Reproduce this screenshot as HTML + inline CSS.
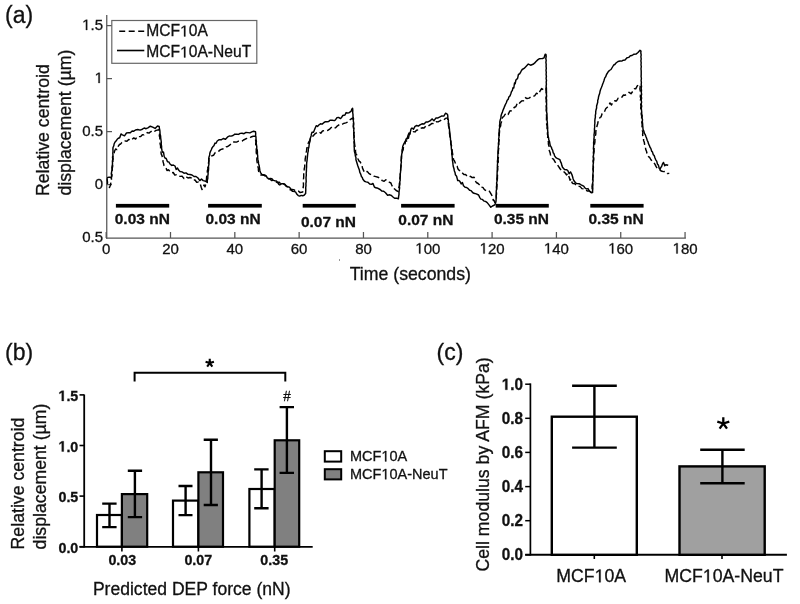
<!DOCTYPE html>
<html><head><meta charset="utf-8"><style>
html,body{margin:0;padding:0;background:#fff;}
svg{display:block;filter:blur(0.35px);}
text{font-family:"Liberation Sans",sans-serif;fill:#111;stroke:#111;stroke-width:0.3px;}
.t15{font-size:15px;}
.t14{font-size:14.5px;}
.t17{font-size:17.7px;}
.t23{font-size:23px;}
.b15{font-size:15.5px;font-weight:bold;}
.c15{font-size:15.3px;font-weight:bold;}
.l15{font-size:15.6px;}
.h13{font-size:13.5px;}
.b13{font-size:14.3px;font-weight:bold;}
.o{fill:transparent;stroke:transparent;}
</style></head><body>
<svg width="800" height="604" viewBox="0 0 800 604">
<rect width="800" height="604" fill="#fff"/>
<line x1="106.75" y1="15" x2="106.75" y2="238.7" stroke="#555" stroke-width="1.25"/>
<line x1="106.1" y1="238.1" x2="685.9" y2="238.1" stroke="#555" stroke-width="1.25"/>
<line x1="106.7" y1="25.6" x2="112" y2="25.6" stroke="#555" stroke-width="1.25"/>
<line x1="106.7" y1="78.6" x2="112" y2="78.6" stroke="#555" stroke-width="1.25"/>
<line x1="106.7" y1="131.6" x2="112" y2="131.6" stroke="#555" stroke-width="1.25"/>
<line x1="106.7" y1="184.6" x2="112" y2="184.6" stroke="#555" stroke-width="1.25"/>
<line x1="106.18" y1="238" x2="106.18" y2="232" stroke="#555" stroke-width="1.25"/>
<line x1="170.50" y1="238" x2="170.50" y2="232" stroke="#555" stroke-width="1.25"/>
<line x1="234.82" y1="238" x2="234.82" y2="232" stroke="#555" stroke-width="1.25"/>
<line x1="299.14" y1="238" x2="299.14" y2="232" stroke="#555" stroke-width="1.25"/>
<line x1="363.46" y1="238" x2="363.46" y2="232" stroke="#555" stroke-width="1.25"/>
<line x1="427.78" y1="238" x2="427.78" y2="232" stroke="#555" stroke-width="1.25"/>
<line x1="492.10" y1="238" x2="492.10" y2="232" stroke="#555" stroke-width="1.25"/>
<line x1="556.42" y1="238" x2="556.42" y2="232" stroke="#555" stroke-width="1.25"/>
<line x1="620.74" y1="238" x2="620.74" y2="232" stroke="#555" stroke-width="1.25"/>
<line x1="685.06" y1="238" x2="685.06" y2="232" stroke="#555" stroke-width="1.25"/>
<text transform="translate(103,30.0) scale(1,1)" text-anchor="end" class="t15"><tspan class="o">1</tspan>.5</text>
<text transform="translate(103,83.0) scale(1,1)" text-anchor="end" class="t15"><tspan class="o">1</tspan></text>
<text transform="translate(103,136.0) scale(1,1)" text-anchor="end" class="t15">0.5</text>
<text transform="translate(103,189.0) scale(1,1)" text-anchor="end" class="t15">0</text>
<text transform="translate(103,242.0) scale(1,1)" text-anchor="end" class="t15">0.5</text>
<text transform="translate(106.2,253.5) scale(1,1)" text-anchor="middle" class="t15">0</text>
<text transform="translate(170.5,253.5) scale(1,1)" text-anchor="middle" class="t15">20</text>
<text transform="translate(234.8,253.5) scale(1,1)" text-anchor="middle" class="t15">40</text>
<text transform="translate(299.1,253.5) scale(1,1)" text-anchor="middle" class="t15">60</text>
<text transform="translate(363.5,253.5) scale(1,1)" text-anchor="middle" class="t15">80</text>
<text transform="translate(427.8,253.5) scale(1,1)" text-anchor="middle" class="t15"><tspan class="o">1</tspan>00</text>
<text transform="translate(492.1,253.5) scale(1,1)" text-anchor="middle" class="t15"><tspan class="o">1</tspan>20</text>
<text transform="translate(556.4,253.5) scale(1,1)" text-anchor="middle" class="t15"><tspan class="o">1</tspan>40</text>
<text transform="translate(620.7,253.5) scale(1,1)" text-anchor="middle" class="t15"><tspan class="o">1</tspan>60</text>
<text transform="translate(685.1,253.5) scale(1,1)" text-anchor="middle" class="t15"><tspan class="o">1</tspan>80</text>
<text transform="translate(410.3,279.8) scale(1,1)" text-anchor="middle" class="t17">Time (seconds)</text>
<text transform="translate(49.2,196) rotate(-90) scale(1,1)" class="t17">Relative centroid</text>
<text transform="translate(71,195.5) rotate(-90) scale(1,1)" class="t17">displacement (µm)</text>
<text transform="translate(5,23) scale(1,1)" class="t23">(a)</text>
<rect x="111.8" y="20.5" width="145" height="42.8" fill="#fff" stroke="#666" stroke-width="1.2"/>
<line x1="119.2" y1="31.3" x2="144.2" y2="31.3" stroke="#000" stroke-width="1.6" stroke-dasharray="6,3.5"/>
<line x1="117" y1="50.5" x2="144.3" y2="50.5" stroke="#000" stroke-width="1.6"/>
<text transform="translate(146.3,36.4) scale(1,1)" class="l15">MCF<tspan class="o">1</tspan>0A</text>
<text transform="translate(146.3,57.4) scale(1,1)" class="l15">MCF<tspan class="o">1</tspan>0A-NeuT</text>
<polyline points="107.2,178.2 107.2,180.1 107.5,182.1 107.4,184.0 108.5,185.4 109.5,187.5 110.3,185.5 110.7,183.5 111.3,181.5 111.5,179.6 111.4,177.7 111.9,175.8 111.9,173.8 112.4,171.9 112.3,170.0 112.3,168.1 112.7,166.2 112.5,164.4 112.9,162.5 112.8,160.6 113.1,158.8 112.9,156.9 113.2,155.0 114.1,153.0 114.6,151.0 115.6,149.0 116.9,149.6 118.3,146.2 119.5,144.5 120.6,144.0 121.8,142.6 123.5,141.3 125.2,140.9 126.9,141.2 128.7,139.4 130.4,140.4 132.1,139.3 133.8,137.9 135.6,139.1 137.3,136.5 139.0,136.6 140.7,136.5 142.4,134.7 144.1,134.9 145.8,133.8 147.4,132.6 149.0,133.1 150.6,131.8 152.4,130.6 154.3,131.5 156.1,130.4 159.0,129.8 159.0,131.8 159.6,133.8 159.3,135.9 159.9,137.9 159.7,139.9 160.1,141.9 160.1,143.9 160.6,145.9 160.6,148.0 160.8,150.0 161.0,152.0 161.2,153.9 162.1,155.9 162.3,157.8 162.9,159.7 163.0,161.6 163.6,163.6 164.0,165.5 165.5,166.7 167.0,170.5 168.5,169.8 170.0,171.5 171.6,172.8 173.2,172.5 174.8,175.0 176.4,174.9 178.0,176.0 180.0,176.4 182.0,176.1 184.0,178.5 186.0,176.6 188.0,178.0 190.0,177.5 191.7,178.1 193.3,180.1 195.0,180.0 196.7,182.3 198.3,182.1 200.0,183.5 200.7,185.5 201.3,187.5 202.0,189.5 203.0,188.8 204.0,184.9 205.0,186.8 206.0,183.5 206.1,181.4 206.5,179.2 206.6,177.1 207.0,175.0 207.4,173.0 207.3,171.0 207.9,169.0 207.8,167.0 208.5,165.0 208.5,163.0 208.8,161.0 208.9,159.0 209.3,157.0 212.0,155.8 213.5,155.3 215.0,152.8 216.5,152.0 218.5,151.4 220.5,149.6 222.5,149.0 224.2,148.7 226.0,146.9 227.8,146.5 229.6,145.2 231.5,143.5 233.0,142.1 234.5,142.0 236.5,142.1 238.5,141.2 240.5,141.3 242.0,141.1 243.5,140.0 245.8,138.8 248.0,138.1 249.5,137.9 251.0,137.0 253.2,136.2 255.5,136.3 255.7,138.3 255.6,140.2 256.0,142.2 255.7,144.2 256.2,146.2 256.1,148.2 256.3,150.1 256.2,152.1 256.5,154.1 256.4,156.1 256.9,158.0 256.8,160.0 257.1,162.1 257.6,164.2 257.7,166.2 258.4,168.3 258.4,170.4 259.0,172.5 261.0,175.1 263.0,175.0 264.7,175.5 266.3,177.7 268.0,178.5 269.8,178.7 271.5,180.5 273.2,180.2 275.0,181.0 277.0,182.5 279.0,182.1 281.0,184.0 283.0,183.4 285.0,184.8 286.8,186.6 288.5,186.8 290.2,189.9 292.0,189.5 293.7,189.7 295.3,190.7 297.0,191.0 298.5,191.1 300.0,192.5 302.7,192.0 303.1,190.3 302.9,188.7 303.3,187.0 303.5,185.0 303.4,183.0 303.7,181.0 303.5,179.0 303.7,177.0 303.7,175.0 303.7,173.0 304.2,170.9 304.2,168.9 304.7,166.8 304.7,164.8 304.7,162.8 305.1,160.9 305.2,158.9 305.6,157.0 305.6,155.0 305.9,153.0 306.6,151.0 306.7,149.0 307.2,147.0 307.6,145.0 308.2,143.2 309.0,141.5 309.8,140.7 310.5,137.8 311.2,137.0 313.1,136.0 315.0,133.8 317.2,132.5 319.0,131.8 320.8,133.2 322.5,131.0 324.4,130.6 326.2,130.8 328.1,130.2 330.0,128.8 331.9,126.9 333.8,127.9 335.6,127.8 337.5,125.8 339.4,124.6 341.2,124.9 343.5,123.5 345.8,122.9 348.0,121.9 349.5,120.1 351.0,119.0 353.0,118.0 353.2,120.0 353.1,122.0 353.5,124.0 353.3,126.0 353.6,128.0 353.6,130.0 353.8,132.0 353.7,134.0 354.2,136.0 354.0,138.0 354.2,140.0 354.4,142.0 354.6,144.0 354.9,146.0 354.9,148.0 355.5,150.0 355.5,152.0 356.0,153.8 357.0,155.5 357.2,157.2 358.0,159.0 359.1,161.1 360.2,161.9 361.3,164.0 362.1,166.0 362.5,168.1 363.4,170.1 364.5,172.5 367.2,171.4 368.8,173.3 370.4,174.4 372.2,174.6 374.0,176.1 375.8,176.6 378.0,177.2 380.1,178.7 382.3,180.6 384.1,181.3 385.8,179.8 387.6,180.5 389.2,182.1 390.9,183.0 391.6,184.8 392.5,186.6 393.0,188.4 394.6,188.9 396.2,190.5 398.4,191.6 398.9,189.7 398.8,187.7 399.4,185.8 399.3,183.9 399.8,181.9 400.0,180.0 400.0,178.0 400.3,175.9 400.3,173.9 400.7,171.9 400.6,169.8 400.8,167.8 400.9,165.8 401.2,163.7 401.1,161.7 401.3,159.7 401.2,157.6 401.5,155.6 402.0,153.6 402.3,151.6 403.2,149.7 403.3,147.7 404.0,145.7 404.9,144.8 405.7,140.2 406.6,141.1 407.4,138.7 408.3,138.9 409.1,135.0 410.0,133.8 411.7,133.3 413.3,131.8 415.0,131.9 416.7,130.1 418.3,130.0 420.0,128.8 422.0,127.8 424.0,128.0 426.0,125.8 428.0,126.2 430.0,124.8 432.0,123.4 434.0,123.7 436.0,121.7 438.0,121.9 440.0,120.9 441.9,119.4 443.8,119.8 445.6,118.4 447.5,117.9 447.8,119.9 447.9,121.9 448.4,123.8 448.5,125.8 449.0,127.8 448.9,129.8 449.5,131.8 449.5,133.8 450.1,135.7 450.0,137.7 450.5,139.7 450.9,141.7 451.0,143.7 451.5,145.7 451.7,147.7 452.1,149.6 452.2,151.6 452.6,153.6 452.8,155.6 453.3,157.6 453.5,159.6 454.4,160.7 455.4,163.2 456.3,165.7 457.1,166.1 458.0,169.1 458.9,170.1 460.6,171.0 462.4,173.0 463.9,174.6 465.5,174.5 467.0,175.9 468.8,177.0 470.5,176.3 472.2,177.6 474.0,177.3 474.8,178.3 475.5,181.1 476.3,182.5 478.1,183.5 479.8,185.2 481.3,187.3 482.9,187.4 484.4,189.6 486.7,191.0 489.0,191.0 490.1,192.3 491.3,194.4 492.5,196.8 493.3,200.4 494.0,200.3 494.8,202.5 496.2,200.0 496.4,198.1 496.2,196.2 496.5,194.2 496.5,192.3 496.8,190.4 496.7,188.5 497.0,186.5 496.9,184.6 497.3,182.7 497.1,180.8 497.4,178.8 497.4,176.9 497.5,175.0 497.6,173.1 497.5,171.2 497.8,169.2 497.6,167.3 498.1,165.4 497.9,163.5 498.3,161.5 498.0,159.6 498.4,157.7 498.1,155.8 498.4,153.8 498.3,151.9 498.5,150.0 498.8,148.0 498.5,146.0 498.9,144.0 498.7,142.0 499.2,140.0 498.9,138.0 499.3,136.0 499.3,134.0 499.5,132.0 499.5,130.0 499.9,127.9 500.7,125.8 500.8,123.7 501.6,121.6 502.0,119.5 502.5,117.4 503.8,116.5 505.0,114.5 506.6,113.1 508.2,114.4 509.8,111.0 511.4,110.7 513.0,109.0 514.4,107.2 515.8,106.8 517.2,103.5 518.6,104.4 520.0,102.5 521.8,100.9 523.5,100.8 525.2,97.6 527.0,98.5 529.0,98.1 531.0,96.8 533.0,96.5 534.8,95.6 536.5,93.2 538.2,94.2 540.0,91.2 541.7,88.5 543.3,89.6 545.0,87.9 546.0,88.0 546.0,90.0 546.2,92.0 545.9,94.0 546.3,96.0 546.0,98.0 546.3,100.0 546.2,102.0 546.3,104.0 546.2,106.0 546.4,108.0 546.2,110.0 546.4,112.0 546.3,114.0 546.6,116.0 546.5,118.0 546.5,120.0 546.9,122.0 546.6,124.0 547.2,126.0 547.0,128.0 547.3,130.0 547.6,132.0 547.4,134.0 547.9,135.9 547.6,137.9 548.0,139.9 548.4,142.0 548.4,144.1 549.0,146.3 548.9,148.4 549.3,150.5 550.1,152.7 550.5,154.9 551.3,157.1 552.4,158.6 553.5,159.2 554.6,161.1 555.9,163.4 557.2,164.4 558.5,166.4 559.9,168.5 561.2,170.3 563.2,171.1 565.2,173.0 566.5,174.9 567.8,173.5 569.1,177.0 570.1,180.2 571.1,178.8 572.1,182.7 573.1,183.6 574.9,183.8 576.6,185.6 578.4,186.2 580.2,186.6 581.9,188.6 583.7,188.9 585.5,189.2 587.2,191.0 589.0,190.9 591.7,192.2 591.7,190.3 592.2,188.4 592.0,186.5 592.3,184.6 592.4,182.6 592.6,180.7 592.7,178.8 592.9,176.9 593.0,175.0 593.0,173.1 593.3,171.2 593.1,169.2 593.4,167.3 593.2,165.4 593.5,163.5 593.4,161.5 593.8,159.6 593.6,157.7 593.8,155.8 593.6,153.8 594.1,151.9 594.0,150.0 594.1,148.0 594.5,146.0 594.5,144.0 594.9,142.0 594.9,140.0 595.2,138.0 595.3,136.0 595.8,134.0 595.8,132.0 596.0,130.0 596.6,128.0 597.0,126.0 597.6,124.0 598.0,122.0 599.0,119.5 600.0,117.5 601.0,116.9 602.0,113.9 603.0,112.5 604.3,112.1 605.7,108.8 607.0,107.5 608.5,106.4 610.0,102.9 611.5,105.0 613.0,102.3 614.8,100.8 616.5,101.0 618.2,98.1 620.0,97.5 621.8,97.3 623.5,95.0 625.2,95.2 627.0,94.0 629.0,92.3 631.0,93.7 633.0,91.0 634.3,88.7 635.7,88.8 637.0,86.3 638.5,84.6 640.0,85.0 640.2,86.9 639.9,88.8 640.3,90.8 640.1,92.7 640.5,94.6 640.3,96.5 640.8,98.5 640.4,100.4 640.7,102.3 640.7,104.2 641.0,106.2 640.7,108.1 641.0,110.0 641.2,112.1 641.2,114.1 641.7,116.2 641.6,118.2 641.9,120.3 641.8,122.4 642.2,124.4 642.0,126.5 642.4,128.6 642.4,130.6 642.9,132.7 642.6,134.7 643.0,136.8 643.5,138.6 643.6,140.4 644.3,142.2 644.5,144.0 645.0,145.8 645.5,147.6 645.7,149.4 646.5,151.2 646.8,153.0 647.3,154.8 648.5,156.6 649.6,157.4 650.8,159.5 652.2,161.4 653.7,162.4 654.9,164.1 656.0,166.4 657.2,168.2 658.9,168.7 660.5,170.5 662.0,171.3 663.5,171.6 665.4,171.5 667.4,173.5 669.3,173.4" fill="none" stroke="#000" stroke-width="1.45" stroke-dasharray="6,3" stroke-linejoin="round"/>
<polyline points="107.0,177.7 109.1,177.1 111.2,177.7 111.6,175.6 111.3,173.6 111.7,171.5 112.1,169.3 111.9,167.2 112.4,165.0 112.5,163.1 112.4,161.1 112.8,159.2 112.5,157.2 113.0,155.3 112.8,153.3 113.0,151.4 112.9,149.4 113.0,147.5 113.8,145.8 114.1,144.0 114.9,142.3 116.0,141.1 117.2,139.3 118.3,138.3 119.7,137.8 121.0,134.0 122.4,134.8 124.5,135.8 126.5,133.0 128.6,132.6 130.3,132.7 132.1,131.0 133.8,131.2 135.5,130.0 137.8,129.5 140.1,130.1 142.4,129.2 144.2,128.0 146.1,128.7 147.9,127.8 150.3,126.2 152.7,127.1 155.1,128.4 157.5,126.0 159.2,126.5 159.4,128.3 159.8,130.2 160.0,132.0 160.0,134.0 160.6,136.0 160.7,138.0 161.0,140.0 161.3,142.1 161.2,144.2 161.6,146.3 161.6,148.4 162.0,150.5 162.8,152.5 163.5,152.1 164.2,156.5 165.0,158.0 166.2,158.5 167.5,161.8 168.8,161.9 170.0,164.0 171.7,165.4 173.3,165.0 175.0,166.0 176.2,169.4 177.5,168.1 178.8,170.3 180.0,171.5 182.0,171.9 184.0,173.2 186.0,172.9 188.0,174.4 190.0,174.5 192.0,175.0 194.0,176.5 196.0,176.5 198.0,178.0 199.8,180.6 201.5,179.0 203.2,180.6 205.0,181.0 207.3,182.5 207.3,180.4 207.8,178.3 207.8,176.2 208.1,174.2 208.1,172.1 208.5,170.0 208.6,168.1 208.5,166.3 208.9,164.4 208.8,162.6 209.0,160.7 208.7,158.9 209.0,157.0 209.7,155.1 209.8,153.2 210.5,151.3 211.2,150.0 212.0,148.0 212.8,146.8 213.9,145.7 215.0,143.1 216.1,143.2 217.2,141.0 219.2,139.7 221.2,139.8 223.2,138.5 225.5,139.3 227.4,137.2 229.2,136.0 231.1,136.1 233.0,135.5 234.9,134.1 236.8,134.2 238.5,134.4 240.2,133.4 242.0,133.3 244.0,133.7 246.0,132.4 248.0,132.6 249.9,132.9 251.8,131.9 253.6,131.3 255.5,131.8 255.7,133.7 255.6,135.6 256.0,137.5 256.0,139.3 256.4,141.2 256.2,143.1 256.5,145.0 256.8,146.8 256.7,148.5 257.3,150.2 257.4,152.0 257.4,154.0 257.7,155.9 257.7,157.9 258.0,159.9 258.4,161.9 258.6,163.9 259.2,165.8 259.5,167.8 259.8,170.2 260.5,172.6 261.8,174.3 263.0,174.8 264.5,174.9 266.0,175.7 267.4,178.0 268.9,179.0 270.4,178.5 271.9,178.7 273.4,180.4 274.9,180.7 276.4,180.9 277.8,182.7 278.8,184.3 279.8,185.0 281.8,183.7 283.3,183.7 284.8,184.2 286.3,186.2 287.8,186.7 289.2,187.1 290.7,188.7 291.7,190.7 292.7,191.4 294.7,191.6 295.7,192.1 296.7,194.0 298.2,195.6 299.7,196.1 301.2,195.4 302.7,195.8 304.1,195.3 305.6,193.6 305.7,191.6 305.8,189.6 305.7,187.6 306.0,185.7 305.9,183.7 306.2,181.7 306.1,179.7 306.0,177.6 306.3,175.4 306.2,173.3 306.4,171.2 306.4,169.1 306.6,166.9 306.6,164.8 306.7,162.8 307.0,160.8 307.2,158.9 307.4,156.9 307.6,154.9 307.8,152.9 308.3,150.9 308.3,149.0 308.9,147.0 309.1,145.0 309.4,143.2 310.0,141.3 310.1,139.5 310.5,137.7 311.1,135.9 311.4,134.1 312.0,132.2 313.5,132.2 315.0,128.5 316.2,125.7 317.5,126.4 318.8,125.0 320.5,123.8 322.2,124.1 324.0,122.5 325.5,121.7 327.0,121.8 328.5,121.6 330.0,120.3 332.2,120.2 334.5,120.6 335.6,119.7 336.8,117.8 338.6,117.4 340.5,118.6 341.6,117.4 342.8,115.5 345.0,115.0 346.1,112.6 347.2,113.0 349.1,112.7 351.0,111.4 351.8,109.3 352.6,108.3 352.8,110.4 352.7,112.5 353.0,114.6 353.0,116.7 353.5,118.7 353.3,120.8 353.7,122.9 353.6,125.0 353.4,126.9 353.9,128.8 353.7,130.8 354.1,132.7 353.7,134.6 354.0,136.5 353.9,138.5 354.3,140.4 354.0,142.3 354.2,144.2 354.1,146.2 354.3,148.1 354.3,150.0 354.5,151.9 355.1,153.8 355.3,155.8 356.0,157.7 355.9,159.6 356.5,161.5 357.2,163.7 357.8,165.8 358.6,168.0 359.4,170.1 359.8,172.3 360.8,174.4 361.5,176.7 362.2,177.3 362.9,179.2 364.5,181.3 366.1,181.9 367.9,182.2 369.7,184.1 371.5,184.3 372.9,183.4 374.4,187.0 375.8,187.8 378.0,188.3 380.1,189.5 381.9,191.1 383.7,191.2 385.5,192.7 387.6,195.2 389.8,194.8 391.4,195.5 393.0,197.0 394.6,198.3 396.2,198.1 398.4,198.8 398.6,196.6 399.0,194.4 399.0,192.2 399.3,190.0 399.6,188.0 399.4,186.1 399.9,184.1 399.7,182.1 400.2,180.2 400.0,178.2 400.3,176.2 400.2,174.3 400.5,172.3 400.7,170.3 400.7,168.2 401.1,166.2 401.0,164.2 401.4,162.2 401.2,160.2 401.6,158.1 401.6,156.1 401.7,154.2 402.2,152.3 402.0,150.3 402.5,148.4 402.7,146.5 403.8,143.8 404.8,142.0 405.6,140.8 406.4,138.5 407.2,138.7 408.0,135.5 409.0,132.9 410.0,133.7 411.0,129.1 412.0,128.0 413.5,129.2 415.0,126.3 416.7,125.5 418.3,126.1 420.0,124.8 422.0,123.8 424.0,124.0 426.0,121.9 428.0,121.9 430.0,120.9 432.0,118.9 434.0,120.7 436.0,117.9 438.0,117.9 440.0,116.9 441.9,115.9 443.8,116.1 445.6,113.2 447.5,114.3 447.8,116.2 447.8,118.2 448.4,120.1 448.3,122.1 448.9,124.0 448.8,125.9 449.3,127.9 449.5,129.8 449.6,131.8 450.0,133.8 449.9,135.8 450.4,137.8 450.5,139.8 450.8,141.7 450.8,143.7 451.3,145.7 451.3,147.7 451.5,149.7 451.9,151.8 451.7,153.8 452.1,155.9 452.3,158.0 452.4,160.2 452.8,162.3 453.0,164.4 453.3,166.6 454.0,168.7 454.3,170.7 455.1,172.8 455.4,174.8 456.6,176.2 457.7,180.6 458.9,180.5 460.0,181.6 461.2,183.9 462.4,182.6 463.5,185.8 465.1,187.3 466.6,187.5 468.2,188.7 469.6,190.2 471.1,190.6 472.6,192.5 474.0,193.3 476.3,193.9 478.6,195.0 479.8,197.6 480.9,199.1 482.4,199.4 484.0,201.1 485.5,201.4 487.2,202.6 489.0,204.9 490.8,207.2 492.5,206.0 494.8,204.9 495.5,203.2 496.0,201.4 496.1,199.4 496.2,197.3 496.2,195.3 496.3,193.2 496.2,191.2 496.6,189.1 496.4,187.1 496.7,185.0 496.6,183.0 497.1,180.9 496.8,178.9 497.1,176.8 497.1,174.8 497.1,172.9 497.3,170.9 497.3,169.0 497.4,167.1 497.4,165.1 497.6,163.2 497.4,161.3 497.7,159.3 497.7,157.4 497.9,155.5 497.9,153.5 498.0,151.6 498.2,149.5 498.2,147.4 498.5,145.4 498.4,143.3 498.8,141.2 498.6,139.2 499.0,137.1 498.9,135.0 498.9,133.1 499.3,131.3 499.2,129.4 499.7,127.6 499.5,125.7 499.8,123.9 499.8,122.0 500.2,120.0 500.9,118.0 501.0,116.0 501.6,114.0 502.4,112.1 503.0,110.3 503.8,108.4 504.5,106.6 505.3,104.7 506.2,103.0 507.2,100.2 508.1,99.4 509.0,96.8 510.0,95.9 510.9,93.4 511.6,91.3 512.3,90.7 513.0,87.7 513.8,88.0 514.5,83.0 515.2,83.7 515.9,80.0 516.6,79.4 517.6,78.3 518.5,74.1 519.5,74.0 520.4,72.7 521.3,70.8 522.2,69.5 524.1,68.4 526.0,66.5 528.3,64.1 530.6,65.2 533.0,64.3 534.5,63.2 536.0,61.5 538.0,59.6 539.5,58.7 541.0,58.6 542.5,58.5 544.0,57.9 544.6,56.1 545.2,54.3 546.0,54.5 546.2,56.5 545.8,58.5 546.2,60.4 545.9,62.4 546.2,64.4 546.1,66.4 546.3,68.4 546.0,70.4 546.3,72.3 546.1,74.3 546.4,76.3 546.1,78.3 546.5,80.3 546.2,82.2 546.4,84.2 546.1,86.2 546.4,88.2 546.4,90.2 546.5,92.2 546.4,94.1 546.6,96.1 546.3,98.1 546.6,100.1 546.5,102.1 546.6,104.1 546.5,106.0 546.6,108.0 546.6,110.0 546.6,112.0 547.0,114.0 546.9,116.0 547.1,118.0 547.0,120.0 547.3,122.0 547.4,124.0 547.5,126.0 547.7,128.0 547.6,129.9 547.8,131.9 547.8,133.9 548.0,135.9 548.6,137.9 548.8,139.9 549.6,141.8 549.9,143.8 550.3,145.6 551.4,147.3 551.9,149.1 552.6,150.1 553.2,152.9 553.9,153.5 554.6,155.8 555.9,157.7 557.2,158.4 559.9,159.7 560.5,161.6 561.4,163.4 561.8,165.3 562.5,167.2 564.5,169.5 566.5,169.7 567.8,170.5 569.1,173.7 570.5,171.9 571.8,174.3 572.5,176.4 573.0,178.4 573.8,180.5 575.5,182.8 577.1,183.6 579.1,183.7 581.1,184.9 583.7,186.2 585.0,188.0 586.4,188.9 588.0,188.6 589.7,191.5 591.2,192.7 592.6,192.5 592.6,190.6 592.8,188.6 592.7,186.7 592.9,184.7 592.7,182.8 593.1,180.8 592.7,178.8 592.9,176.9 592.9,174.9 593.0,173.0 593.3,171.0 593.0,168.9 593.2,166.9 593.1,164.8 593.4,162.8 593.0,160.8 593.5,158.7 593.1,156.7 593.6,154.7 593.4,152.6 593.7,150.6 593.4,148.5 593.6,146.5 593.7,144.6 593.6,142.6 593.9,140.7 593.9,138.8 594.2,136.9 594.0,134.9 594.3,133.0 594.5,131.0 594.4,129.0 594.7,127.0 594.6,125.0 594.9,123.0 594.8,121.0 595.0,119.0 595.4,117.2 595.3,115.4 595.7,113.6 595.7,111.8 596.0,110.0 596.6,108.0 596.6,106.0 597.2,104.0 597.7,102.2 597.7,100.5 598.3,98.8 598.5,97.0 599.0,95.2 599.7,93.3 600.0,91.5 600.5,89.7 601.3,87.8 602.0,86.0 602.6,84.2 603.4,82.3 604.0,80.5 604.8,77.9 605.7,76.8 606.5,74.5 608.0,72.1 609.4,70.5 611.0,69.5 612.5,67.0 613.7,65.0 614.8,64.5 616.0,63.0 618.0,61.5 620.0,61.0 621.7,61.1 623.3,60.2 625.0,60.0 627.0,57.8 628.7,57.4 630.3,55.7 632.0,55.5 634.0,54.2 636.0,54.1 638.0,52.5 640.0,50.3 641.0,51.0 640.8,53.0 641.2,54.9 640.9,56.9 641.2,58.9 640.9,60.8 641.2,62.8 641.0,64.8 641.3,66.7 641.0,68.7 641.2,70.7 641.2,72.6 641.2,74.6 641.1,76.6 641.4,78.5 641.1,80.5 641.4,82.5 641.2,84.4 641.5,86.4 641.2,88.4 641.5,90.3 641.3,92.3 641.6,94.3 641.2,96.2 641.6,98.2 641.2,100.2 641.6,102.1 641.2,104.1 641.7,106.1 641.3,108.0 641.5,110.0 641.7,111.9 641.7,113.9 642.2,115.8 642.0,117.8 642.5,119.7 642.3,121.6 642.6,123.6 642.7,125.5 642.9,127.5 643.0,129.4 643.8,131.0 644.5,133.8 645.2,134.4 646.0,136.8 646.7,138.6 647.2,140.3 648.1,142.1 648.5,143.8 649.4,145.6 650.0,147.3 650.8,148.4 651.7,151.2 652.5,152.1 653.3,154.7 654.2,155.6 655.0,158.0 655.9,160.1 656.7,161.1 657.5,164.3 658.4,165.1 659.2,168.2 660.1,169.3 660.9,167.2 661.6,166.6 662.4,164.1 663.5,162.4 664.1,164.1 664.7,165.8 665.8,164.7 668.2,165.3" fill="none" stroke="#000" stroke-width="1.45" stroke-linejoin="round"/>
<rect x="115.9" y="203.9" width="53.3" height="3.7" fill="#000"/>
<text transform="translate(114.7,224.3) scale(1,1)" class="b15">0.03 nN</text>
<rect x="208.1" y="203.9" width="53.7" height="3.7" fill="#000"/>
<text transform="translate(205.5,224.3) scale(1,1)" class="b15">0.03 nN</text>
<rect x="302.7" y="203.9" width="53.1" height="3.7" fill="#000"/>
<text transform="translate(300.9,226.8) scale(1,1)" class="b15">0.07 nN</text>
<rect x="401.1" y="203.9" width="53.5" height="3.7" fill="#000"/>
<text transform="translate(398.3,225.1) scale(1,1)" class="b15">0.07 nN</text>
<rect x="495.7" y="203.9" width="53.1" height="3.7" fill="#000"/>
<text transform="translate(493.9,224.3) scale(1,1)" class="b15">0.35 nN</text>
<rect x="590.3" y="203.9" width="53.3" height="3.7" fill="#000"/>
<text transform="translate(588.5,224.3) scale(1,1)" class="b15">0.35 nN</text>
<rect x="339" y="259" width="1" height="2" fill="#999"/>
<text transform="translate(5,359.5) scale(1,1.041)" class="t23">(b)</text>
<line x1="84.2" y1="394.5" x2="84.2" y2="547.5" stroke="#000" stroke-width="1.8"/>
<line x1="79.5" y1="546.8" x2="312.7" y2="546.8" stroke="#000" stroke-width="1.8"/>
<line x1="79.5" y1="394.9" x2="84.2" y2="394.9" stroke="#000" stroke-width="1.6"/>
<text transform="translate(78.3,400.9) scale(1,1.041)" text-anchor="end" class="b13"><tspan class="o">1</tspan>.5</text>
<line x1="79.5" y1="445.5" x2="84.2" y2="445.5" stroke="#000" stroke-width="1.6"/>
<text transform="translate(78.3,451.5) scale(1,1.041)" text-anchor="end" class="b13"><tspan class="o">1</tspan>.0</text>
<line x1="79.5" y1="496.1" x2="84.2" y2="496.1" stroke="#000" stroke-width="1.6"/>
<text transform="translate(78.3,502.1) scale(1,1.041)" text-anchor="end" class="b13">0.5</text>
<line x1="79.5" y1="546.7" x2="84.2" y2="546.7" stroke="#000" stroke-width="1.6"/>
<text transform="translate(78.3,552.7) scale(1,1.041)" text-anchor="end" class="b13">0.0</text>
<line x1="121.9" y1="546" x2="121.9" y2="551.5" stroke="#000" stroke-width="1.6"/>
<line x1="198.4" y1="546" x2="198.4" y2="551.5" stroke="#000" stroke-width="1.6"/>
<line x1="274.7" y1="546" x2="274.7" y2="551.5" stroke="#000" stroke-width="1.6"/>
<rect x="97.0" y="515.0" width="24.9" height="31.7" fill="#fff" stroke="#000" stroke-width="2.2"/>
<rect x="121.9" y="494.1" width="25.3" height="52.6" fill="#808080" stroke="#000" stroke-width="2.2"/>
<path d="M102.2 503.6H116.6M102.2 527.1H116.6M109.5 503.6V527.1" stroke="#000" stroke-width="2.4" fill="none"/>
<path d="M127.8 470.8H142.1M127.8 517.1H142.1M134.9 470.8V517.1" stroke="#000" stroke-width="2.4" fill="none"/>
<rect x="173.0" y="500.6" width="25.4" height="46.1" fill="#fff" stroke="#000" stroke-width="2.2"/>
<rect x="198.4" y="472.3" width="24.6" height="74.4" fill="#808080" stroke="#000" stroke-width="2.2"/>
<path d="M178.5 486.0H192.5M178.5 515.1H192.5M185.6 486.0V515.1" stroke="#000" stroke-width="2.4" fill="none"/>
<path d="M203.7 439.8H217.9M203.7 505.0H217.9M211.0 439.8V505.0" stroke="#000" stroke-width="2.4" fill="none"/>
<rect x="249.4" y="489.0" width="25.3" height="57.7" fill="#fff" stroke="#000" stroke-width="2.2"/>
<rect x="274.7" y="440.3" width="24.5" height="106.4" fill="#808080" stroke="#000" stroke-width="2.2"/>
<path d="M254.2 469.4H268.6M254.2 508.2H268.6M261.6 469.4V508.2" stroke="#000" stroke-width="2.4" fill="none"/>
<path d="M279.6 407.1H294.0M279.6 472.9H294.0M286.9 407.1V472.9" stroke="#000" stroke-width="2.4" fill="none"/>
<text transform="translate(122.3,565.2) scale(1,1.041)" text-anchor="middle" class="b13">0.03</text>
<text transform="translate(198.3,565.2) scale(1,1.041)" text-anchor="middle" class="b13">0.07</text>
<text transform="translate(274.2,565.2) scale(1,1.041)" text-anchor="middle" class="b13">0.35</text>
<text transform="translate(92.9,594.5) scale(1,1.041)" class="t17" style="font-size:17.55px">Predicted DEP force (nN)</text>
<text transform="translate(23.8,549.4) rotate(-90) scale(1,1.041)" class="t17">Relative centroid</text>
<text transform="translate(45.7,549.4) rotate(-90) scale(1,1.041)" class="t17">displacement (µm)</text>
<path d="M134.6 381.6V372.8H285.3V381.6" stroke="#000" stroke-width="2" fill="none"/>
<path d="M209.75 363.10L209.75 358.70M209.75 363.10L213.93 361.74M209.75 363.10L205.57 361.74M209.75 363.10L212.34 366.66M209.75 363.10L207.16 366.66" stroke="#000" stroke-width="2.1" fill="none" stroke-linecap="butt"/>
<text transform="translate(286.9,400.8) scale(1,1.041)" text-anchor="middle" class="h13">#</text>
<rect x="324.8" y="451.2" width="16.4" height="10.4" fill="#fff" stroke="#000" stroke-width="2"/>
<rect x="324.8" y="469.2" width="16.4" height="10.2" fill="#808080" stroke="#000" stroke-width="2"/>
<text transform="translate(350,461.4) scale(1,1.041)" class="t14">MCF<tspan class="o">1</tspan>0A</text>
<text transform="translate(350,479.3) scale(1,1.041)" class="t14">MCF<tspan class="o">1</tspan>0A-NeuT</text>
<text transform="translate(436.5,359.5) scale(1,1.041)" class="t23">(c)</text>
<line x1="530.4" y1="383.4" x2="530.4" y2="555.5" stroke="#000" stroke-width="1.7"/>
<line x1="525.2" y1="554.8" x2="786.9" y2="554.8" stroke="#000" stroke-width="2"/>
<line x1="525.2" y1="384.2" x2="530.4" y2="384.2" stroke="#000" stroke-width="1.5"/>
<text transform="translate(523,389.8) scale(1,1.041)" text-anchor="end" class="c15"><tspan class="o">1</tspan>.0</text>
<line x1="525.2" y1="418.3" x2="530.4" y2="418.3" stroke="#000" stroke-width="1.5"/>
<text transform="translate(523,423.9) scale(1,1.041)" text-anchor="end" class="c15">0.8</text>
<line x1="525.2" y1="452.4" x2="530.4" y2="452.4" stroke="#000" stroke-width="1.5"/>
<text transform="translate(523,458.0) scale(1,1.041)" text-anchor="end" class="c15">0.6</text>
<line x1="525.2" y1="486.6" x2="530.4" y2="486.6" stroke="#000" stroke-width="1.5"/>
<text transform="translate(523,492.2) scale(1,1.041)" text-anchor="end" class="c15">0.4</text>
<line x1="525.2" y1="520.7" x2="530.4" y2="520.7" stroke="#000" stroke-width="1.5"/>
<text transform="translate(523,526.3) scale(1,1.041)" text-anchor="end" class="c15">0.2</text>
<line x1="525.2" y1="554.8" x2="530.4" y2="554.8" stroke="#000" stroke-width="1.5"/>
<text transform="translate(523,560.4) scale(1,1.041)" text-anchor="end" class="c15">0.0</text>
<line x1="594.3" y1="554" x2="594.3" y2="559" stroke="#000" stroke-width="1.6"/>
<line x1="722.0" y1="554" x2="722.0" y2="559" stroke="#000" stroke-width="1.6"/>
<rect x="551.8" y="416.7" width="85" height="138.1" fill="#fff" stroke="#000" stroke-width="2.4"/>
<rect x="679.5" y="466.4" width="85.2" height="88.4" fill="#a0a0a0" stroke="#000" stroke-width="2.4"/>
<path d="M572.1 385.7H616.8M572.1 447.6H616.8M594.4 385.7V447.6" stroke="#000" stroke-width="2.4" fill="none"/>
<path d="M700.2 449.7H744.7M700.2 483.2H744.7M722.4 449.7V483.2" stroke="#000" stroke-width="2.4" fill="none"/>
<path d="M723.30 423.50L723.30 417.20M723.30 423.50L729.29 421.55M723.30 423.50L717.31 421.55M723.30 423.50L727.00 428.60M723.30 423.50L719.60 428.60" stroke="#000" stroke-width="2.3" fill="none" stroke-linecap="butt"/>
<text transform="translate(591.2,582.3) scale(1,1.041)" text-anchor="middle" class="t17">MCF<tspan class="o">1</tspan>0A</text>
<text transform="translate(724,582.3) scale(1,1.041)" text-anchor="middle" class="t17">MCF<tspan class="o">1</tspan>0A-NeuT</text>
<text transform="translate(488.5,571.5) rotate(-90) scale(1,1.041)" class="t17">Cell modulus by AFM (kPa)</text>
<path d="M85.91 30.00L85.91 20.94L83.58 22.60L83.58 21.36L86.02 19.68L87.24 19.68L87.24 30.00ZM98.43 83.00L98.43 73.94L96.10 75.60L96.10 74.36L98.54 72.68L99.75 72.68L99.75 83.00ZM419.06 253.50L419.06 244.44L416.73 246.10L416.73 244.86L419.17 243.18L420.38 243.18L420.38 253.50ZM483.36 253.50L483.36 244.44L481.03 246.10L481.03 244.86L483.47 243.18L484.68 243.18L484.68 253.50ZM547.66 253.50L547.66 244.44L545.33 246.10L545.33 244.86L547.77 243.18L548.98 243.18L548.98 253.50ZM611.96 253.50L611.96 244.44L609.63 246.10L609.63 244.86L612.07 243.18L613.28 243.18L613.28 253.50ZM676.36 253.50L676.36 244.44L674.03 246.10L674.03 244.86L676.47 243.18L677.68 243.18L677.68 253.50ZM184.00 36.40L184.00 26.98L181.58 28.71L181.58 27.41L184.12 25.67L185.38 25.67L185.38 36.40ZM184.00 57.40L184.00 47.98L181.58 49.71L181.58 48.41L184.12 46.67L185.38 46.67L185.38 57.40ZM61.77 400.90L61.77 392.40L59.41 393.93L59.41 392.32L61.87 390.66L63.73 390.66L63.73 400.90ZM61.77 451.50L61.77 443.00L59.41 444.53L59.41 442.92L61.87 441.26L63.73 441.26L63.73 451.50ZM385.06 461.40L385.06 452.28L382.81 453.96L382.81 452.70L385.16 451.02L386.34 451.02L386.34 461.40ZM385.06 479.30L385.06 470.18L382.81 471.86L382.81 470.60L385.16 468.92L386.34 468.92L386.34 479.30ZM505.29 389.80L505.29 380.70L502.77 382.34L502.77 380.62L505.40 378.84L507.39 378.84L507.39 389.80ZM599.06 582.30L599.06 571.17L596.32 573.21L596.32 571.68L599.19 569.62L600.63 569.62L600.63 582.30ZM707.30 582.30L707.30 571.17L704.55 573.21L704.55 571.68L707.43 569.62L708.87 569.62L708.87 582.30Z" fill="#111" stroke="#111" stroke-width="0.3"/>
</svg>
</body></html>
